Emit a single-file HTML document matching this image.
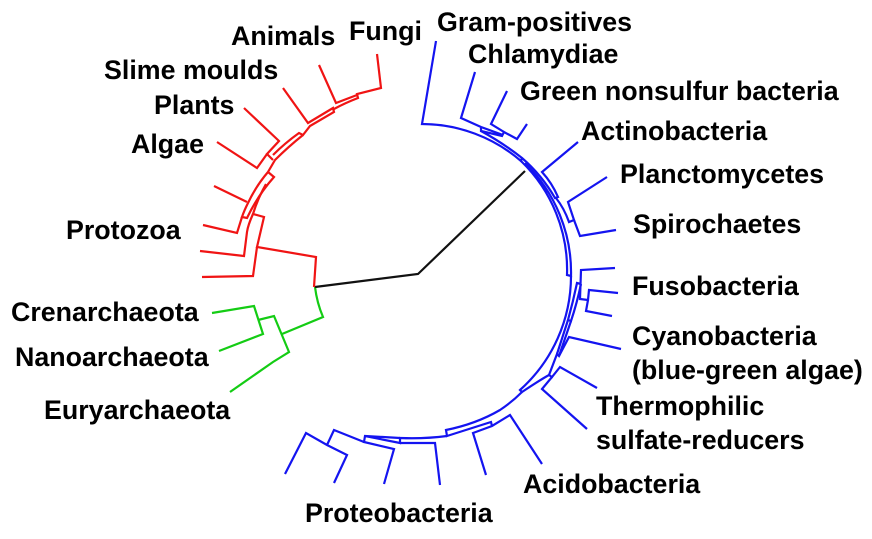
<!DOCTYPE html>
<html><head><meta charset="utf-8"><style>
html,body{margin:0;padding:0;background:#fff}
svg{display:block}
text{font-family:"Liberation Sans",sans-serif;font-weight:bold;font-size:26.8px;fill:#000}
path{fill:none;stroke-width:2.2;stroke-linejoin:miter}
.r path{stroke:#f01414}.b path{stroke:#1414f0}.g path{stroke:#14cc14}
</style></head><body>
<svg width="872" height="539" viewBox="0 0 872 539" xmlns="http://www.w3.org/2000/svg">
<g class="g">
<path d="M315,287 Q317,303 323,317 L282,334"/>
<path d="M212,313 L254,306 L263,334 L219,351"/>
<path d="M258,320 L274,316 L289,352 L273,362 L230,392"/>
</g>
<path d="M315,287 L418,274 L525,171" fill="none" stroke="#111" stroke-width="1.8"/>
<g class="r">
<path d="M377,54 L381,88 L357,94 L358,98 Q345,103 334,109"/>
<path d="M319,65 L336,103 L357,95"/>
<path d="M283,88 L308,123 L333,108 L334,112 L310,126 L303,135 L299,133 Q285,143 273,155"/>
<path d="M303,135 Q288,147 275,160 L268,172 L274,177 Q258,195 247,218 L242,217 Q244,211 248,203 Q256,186 268,172"/>
<path d="M244,108 L279,141 L267,154 L273,160"/>
<path d="M217,142 L257,168 L267,154"/>
<path d="M214,186 L247,202"/>
<path d="M242,217 L237,233 L203,225"/>
<path d="M266,184 Q258,198 253,214 L264,217 L257,247 L316,257 L314,287"/>
<path d="M253,214 Q248,225 247,232 L244,256 L200,251"/>
<path d="M202,277 L253,276 L257,247"/>
</g>
<g class="b">
<path d="M436,41 L422,124 A152,152 0 0 1 521,161 L522,158"/>
<path d="M475,72 L461,118 L481,127 L503,135 M481,127 L481,131 L502,136 L504,132 L517,139 L527,124"/>
<path d="M507,91 L491,124 L504,132"/>
<path d="M481,131 Q503,143 522,158 A156,156 0 0 1 555,198 L558,197 Q552,183 542,172 L578,142"/>
<path d="M556,198 Q564,208 569,222 L574,220 L568,202 L607,177"/>
<path d="M574,220 L580,236 L616,230"/>
<path d="M521,161 A151,151 0 0 1 567,275 L571,276 A153,153 0 0 0 525,163"/>
<path d="M615,268 L581,270 L580,299 L588,300 L589,290 L618,293"/>
<path d="M588,300 L586,311 L612,316"/>
<path d="M581,284 L577,283 Q573,302 568,320 L571,321 Q577,303 581,284"/>
<path d="M571,276 A153,153 0 0 1 520,390 L522,392 Q540,380 549,375 L552,377 L560,367 L597,388"/>
<path d="M552,377 L542,389 L587,429"/>
<path d="M549,375 L557,354 L559,356 L569,337 L621,349"/>
<path d="M568,320 L557,354 M571,321 L559,356"/>
<path d="M522,392 Q512,402 500,410 Q476,424 446,430 L447,436 L491,422 L492,426"/>
<path d="M447,436 Q424,439 400,438 L400,443 L365,436 L364,442 L394,449 L384,484"/>
<path d="M542,464 L510,415 L492,426 L473,433 L486,475"/>
<path d="M440,485 L435,443 L400,443"/>
<path d="M400,438 L365,436"/>
<path d="M364,442 L334,430 L327,445"/>
<path d="M285,474 L306,433 L327,445 L347,455 L334,483"/>
</g>
<text x="349" y="40">Fungi</text>
<text x="231" y="45">Animals</text>
<text x="104" y="79">Slime moulds</text>
<text x="154" y="114">Plants</text>
<text x="131" y="153">Algae</text>
<text x="66" y="239">Protozoa</text>
<text x="11" y="321">Crenarchaeota</text>
<text x="15" y="366">Nanoarchaeota</text>
<text x="44" y="419">Euryarchaeota</text>
<text x="437" y="31">Gram-positives</text>
<text x="468" y="63">Chlamydiae</text>
<text x="520" y="100">Green nonsulfur bacteria</text>
<text x="581" y="140">Actinobacteria</text>
<text x="620" y="183">Planctomycetes</text>
<text x="633" y="233">Spirochaetes</text>
<text x="632" y="295">Fusobacteria</text>
<text x="632" y="345">Cyanobacteria</text>
<text x="632" y="379">(blue-green algae)</text>
<text x="596" y="415">Thermophilic</text>
<text x="596" y="449">sulfate-reducers</text>
<text x="523" y="493">Acidobacteria</text>
<text x="305" y="522">Proteobacteria</text>
</svg>
</body></html>
